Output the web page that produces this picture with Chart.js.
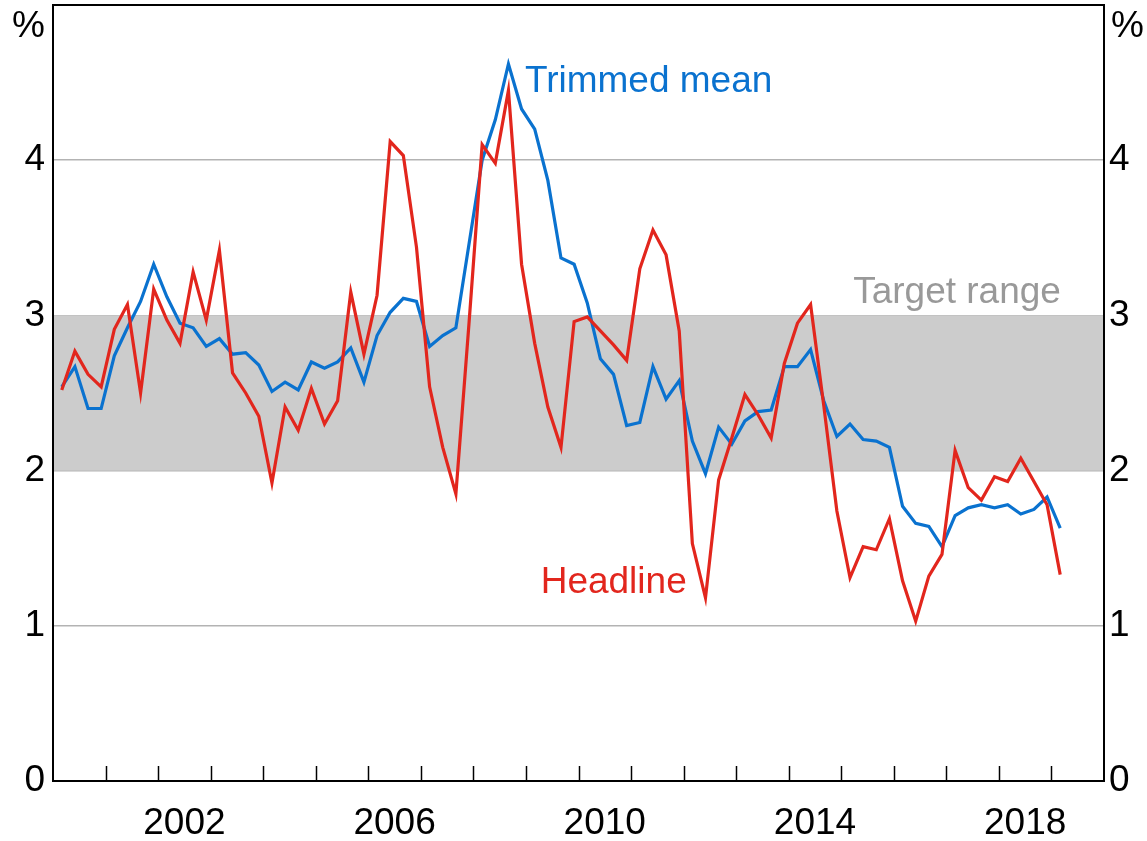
<!DOCTYPE html>
<html>
<head>
<meta charset="utf-8">
<script src="https://cdn.jsdelivr.net/npm/chart.js@4/dist/chart.umd.min.js"></script>
<style>
  html, body { margin: 0; padding: 0; background: #ffffff; }
  #wrap { width: 1147px; height: 841px; }
</style>
</head>
<body>
<div id="wrap"><canvas id="c" width="1147" height="841"></canvas></div>
<script>
// Quarter-end months (year-month)
const quarters = [
  '2000-03','2000-06','2000-09','2000-12','2001-03','2001-06','2001-09','2001-12',
  '2002-03','2002-06','2002-09','2002-12','2003-03','2003-06','2003-09','2003-12',
  '2004-03','2004-06','2004-09','2004-12','2005-03','2005-06','2005-09','2005-12',
  '2006-03','2006-06','2006-09','2006-12','2007-03','2007-06','2007-09','2007-12',
  '2008-03','2008-06','2008-09','2008-12','2009-03','2009-06','2009-09','2009-12',
  '2010-03','2010-06','2010-09','2010-12','2011-03','2011-06','2011-09','2011-12',
  '2012-03','2012-06','2012-09','2012-12','2013-03','2013-06','2013-09','2013-12',
  '2014-03','2014-06','2014-09','2014-12','2015-03','2015-06','2015-09','2015-12',
  '2016-03','2016-06','2016-09','2016-12','2017-03','2017-06','2017-09','2017-12',
  '2018-03','2018-06','2018-09','2018-12','2019-03'
];

const headline = [
  2.52, 2.77, 2.62, 2.54, 2.91, 3.07, 2.50, 3.17,
  2.97, 2.82, 3.28, 2.97, 3.42, 2.63, 2.50, 2.35,
  1.92, 2.41, 2.26, 2.53, 2.30, 2.45, 3.15, 2.75,
  3.13, 4.12, 4.03, 3.44, 2.54, 2.15, 1.85, 2.95,
  4.10, 3.98, 4.45, 3.33, 2.82, 2.41, 2.15, 2.96,
  2.99, 2.90, 2.81, 2.71, 3.30, 3.55, 3.39, 2.90,
  1.53, 1.18, 1.94, 2.21, 2.49, 2.36, 2.21, 2.69,
  2.95, 3.07, 2.42, 1.74, 1.31, 1.51, 1.49, 1.69,
  1.29, 1.03, 1.32, 1.46, 2.13, 1.89, 1.81, 1.96,
  1.93, 2.08, 1.93, 1.78, 1.33
];

const trimmedMean = [
  2.54, 2.67, 2.40, 2.40, 2.74, 2.92, 3.09, 3.33,
  3.12, 2.95, 2.92, 2.80, 2.85, 2.75, 2.76, 2.68,
  2.51, 2.57, 2.52, 2.70, 2.66, 2.70, 2.79, 2.57,
  2.87, 3.02, 3.11, 3.09, 2.80, 2.87, 2.92, 3.46,
  4.00, 4.26, 4.62, 4.33, 4.20, 3.87, 3.37, 3.33,
  3.08, 2.72, 2.62, 2.29, 2.31, 2.67, 2.46, 2.58,
  2.19, 1.98, 2.28, 2.17, 2.32, 2.38, 2.39, 2.67,
  2.67, 2.78, 2.45, 2.22, 2.30, 2.20, 2.19, 2.15,
  1.77, 1.66, 1.64, 1.51, 1.71, 1.76, 1.78, 1.76,
  1.78, 1.72, 1.75, 1.83, 1.63
];

const targetRange = [2, 3];
const yearLabels = ['2002', '2006', '2010', '2014', '2018'];
const yTickValues = [0, 1, 2, 3, 4];
const xMin = 2000, xMax = 2020;
const yMin = 0, yMax = 5;

const RED = '#e2261d';
const BLUE = '#0a72cf';
const FONT = '"Liberation Sans", Arial, Helvetica, sans-serif';
const FSIZE = 37;

function toYear(q) {
  const [y, m] = q.split('-').map(Number);
  return y + (m - 1) / 12;
}
const headlinePts = quarters.map((q, i) => ({ x: toYear(q), y: headline[i] }));
const trimmedPts = quarters.map((q, i) => ({ x: toYear(q), y: trimmedMean[i] }));

function zeroPad(scale) {
  scale.paddingTop = 0;
  scale.paddingBottom = 0;
  scale.paddingLeft = 0;
  scale.paddingRight = 0;
}

const decorPlugin = {
  id: 'decor',
  beforeDatasetsDraw(chart) {
    const { ctx, chartArea: a, scales } = chart;
    const y = scales.y;
    ctx.save();
    ctx.fillStyle = '#cccccc';
    const top = y.getPixelForValue(targetRange[1]);
    const bot = y.getPixelForValue(targetRange[0]);
    ctx.fillRect(a.left, top, a.right - a.left, bot - top);
    ctx.restore();
  },
  afterDatasetsDraw(chart) {
    const { ctx, chartArea: a, scales } = chart;
    const x = scales.x, y = scales.y;
    ctx.save();
    // year tick marks, pointing up into the plot
    ctx.strokeStyle = '#000000';
    ctx.lineWidth = 1.5;
    for (let yr = xMin + 1; yr < xMax; yr++) {
      const px = Math.round(x.getPixelForValue(yr)) + 0.5;
      ctx.beginPath();
      ctx.moveTo(px, a.bottom);
      ctx.lineTo(px, a.bottom - 15);
      ctx.stroke();
    }
    // frame
    ctx.lineWidth = 2;
    ctx.strokeRect(a.left, a.top, a.right - a.left, a.bottom - a.top);

    // texts
    ctx.font = FSIZE + 'px ' + FONT;
    ctx.textBaseline = 'alphabetic';
    ctx.fillStyle = '#000000';
    ctx.textAlign = 'right';
    ctx.fillText('%', a.left - 8, 37);
    ctx.textAlign = 'left';
    ctx.fillText('%', a.right + 7, 37);

    ctx.fillStyle = BLUE;
    ctx.textAlign = 'left';
    ctx.fillText('Trimmed mean', x.getPixelForValue(2008.98), y.getPixelForValue(4.44));
    ctx.fillStyle = RED;
    ctx.fillText('Headline', x.getPixelForValue(2009.28), y.getPixelForValue(1.213));
    ctx.fillStyle = '#999999';
    ctx.textAlign = 'right';
    ctx.fillText('Target range', x.getPixelForValue(2019.18), y.getPixelForValue(3.08));
    ctx.restore();
  }
};

new Chart(document.getElementById('c'), {
  type: 'line',
  data: {
    datasets: [
      {
        label: 'Headline',
        data: headlinePts,
        borderColor: RED,
        borderWidth: 3.2,
        pointRadius: 0,
        tension: 0,
        fill: false
      },
      {
        label: 'Trimmed mean',
        data: trimmedPts,
        borderColor: BLUE,
        borderWidth: 3.2,
        pointRadius: 0,
        tension: 0,
        fill: false
      }
    ]
  },
  options: {
    responsive: false,
    animation: false,
    maintainAspectRatio: false,
    layout: { padding: { top: 5, left: 0, right: 0, bottom: 0 } },
    plugins: {
      legend: { display: false },
      tooltip: { enabled: false }
    },
    scales: {
      x: {
        type: 'linear',
        min: xMin,
        max: xMax,
        afterBuildTicks(scale) {
          scale.ticks = yearLabels.map(l => ({ value: Number(l) + 0.5 }));
        },
        afterFit(scale) { scale.height = 60; zeroPad(scale); },
        grid: { display: false },
        border: { display: false },
        ticks: {
          autoSkip: false,
          maxRotation: 0,
          padding: 13,
          color: '#000000',
          font: { family: FONT, size: FSIZE },
          callback: (v) => String(Math.floor(v))
        }
      },
      y: {
        position: 'left',
        min: yMin,
        max: yMax,
        afterBuildTicks(scale) {
          scale.ticks = yTickValues.concat([yMax]).map(v => ({ value: v }));
        },
        afterFit(scale) { scale.width = 53; zeroPad(scale); },
        grid: {
          drawTicks: false,
          color: (c) => (c.tick && c.tick.value > yMin && c.tick.value < yMax) ? '#b3b3b3' : 'rgba(0,0,0,0)',
          lineWidth: 1.5
        },
        border: { display: false },
        ticks: {
          padding: 8,
          color: '#000000',
          font: { family: FONT, size: FSIZE },
          callback: (v) => (v === yMax ? '' : String(v))
        }
      },
      y2: {
        position: 'right',
        min: yMin,
        max: yMax,
        afterBuildTicks(scale) {
          scale.ticks = yTickValues.concat([yMax]).map(v => ({ value: v }));
        },
        afterFit(scale) { scale.width = 43; zeroPad(scale); },
        grid: { display: false, drawTicks: false },
        border: { display: false },
        ticks: {
          padding: 5,
          color: '#000000',
          font: { family: FONT, size: FSIZE },
          callback: (v) => (v === yMax ? '' : String(v))
        }
      }
    }
  },
  plugins: [decorPlugin]
});
</script>
</body>
</html>
